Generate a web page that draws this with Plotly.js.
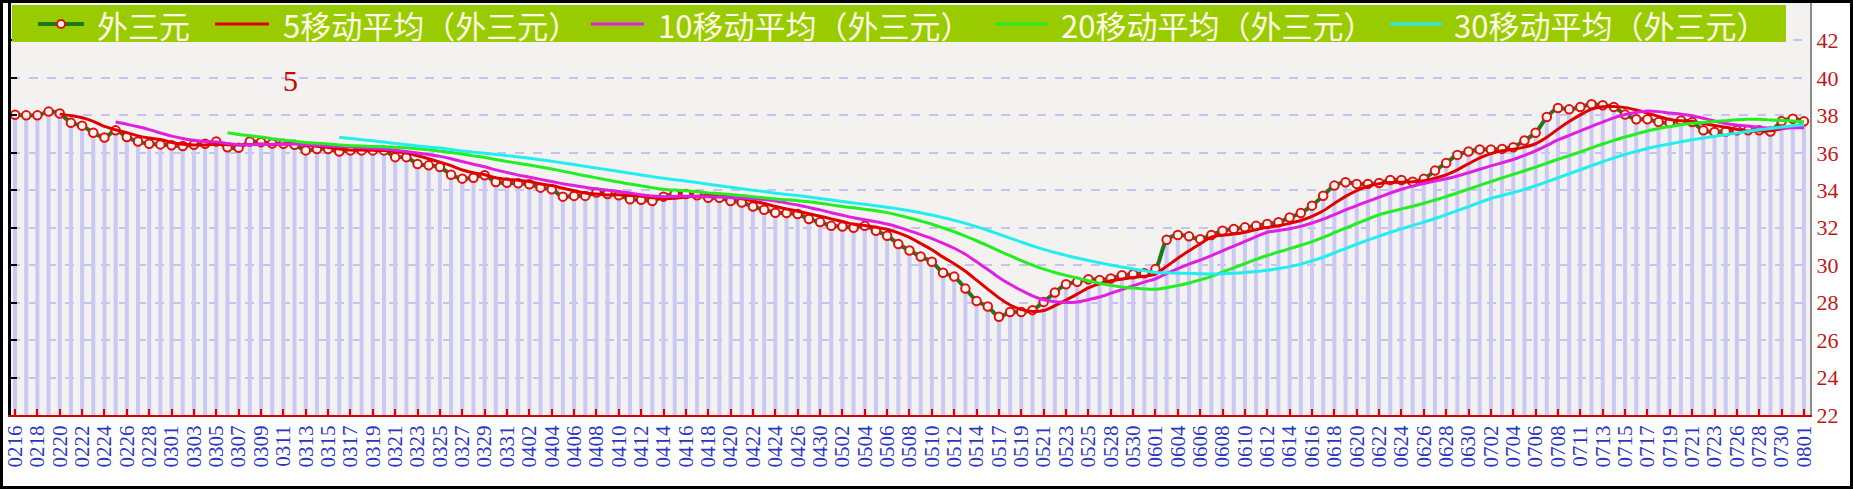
<!DOCTYPE html>
<html>
<head>
<meta charset="utf-8">
<script src="https://cdn.plot.ly/plotly-3.0.1.min.js"></script>
<style>
  html, body { margin: 0; padding: 0; background: #fff; }
  #wrap { position: relative; width: 1853px; height: 489px; }
  #chart { width: 1853px; height: 489px; }
  #frame { position: absolute; left: 0; top: 0; width: 1853px; height: 489px; box-sizing: border-box; border: 3px solid #000; pointer-events: none; }
</style>
</head>
<body>
<div id="wrap"><div id="chart"></div><div id="frame"></div></div>
<script>
// ---- data ----
const dates = [
  "0216","0217","0218","0219","0220","0221","0222","0223","0224","0225",
  "0226","0227","0228","0229","0301","0302","0303","0304","0305","0306",
  "0307","0308","0309","0310","0311","0312","0313","0314","0315","0316",
  "0317","0318","0319","0320","0321","0322","0323","0324","0325","0326",
  "0327","0328","0329","0330","0331","0401","0402","0403","0404","0405",
  "0406","0407","0408","0409","0410","0411","0412","0413","0414","0415",
  "0416","0417","0418","0419","0420","0421","0422","0423","0424","0425",
  "0426","0427","0430","0501","0502","0503","0504","0505","0506","0507",
  "0508","0509","0510","0511","0512","0513","0514","0515","0517","0518",
  "0519","0520","0521","0522","0523","0524","0525","0526","0528","0529",
  "0530","0531","0601","0602","0604","0605","0606","0607","0608","0609",
  "0610","0611","0612","0613","0614","0615","0616","0617","0618","0619",
  "0620","0621","0622","0623","0624","0625","0626","0627","0628","0629",
  "0630","0701","0702","0703","0704","0705","0706","0707","0708","0709",
  "0711","0712","0713","0714","0715","0716","0717","0718","0719","0720",
  "0721","0722","0723","0724","0726","0727","0728","0729","0730","0731",
  "0801"
];
const waiSanYuan = [
  38.03, 38.0, 38.0, 38.2, 38.1, 37.6, 37.45, 37.07, 36.82, 37.2,
  36.84, 36.6, 36.48, 36.45, 36.4, 36.36, 36.43, 36.48, 36.6, 36.3,
  36.27, 36.6, 36.57, 36.5, 36.48, 36.43, 36.13, 36.2, 36.2, 36.07,
  36.13, 36.13, 36.13, 36.13, 35.77, 35.77, 35.4, 35.33, 35.24, 34.83,
  34.62, 34.67, 34.8, 34.44, 34.4, 34.37, 34.32, 34.14, 34.05, 33.66,
  33.7, 33.7, 33.88, 33.8, 33.73, 33.52, 33.49, 33.43, 33.66, 33.8,
  33.8, 33.73, 33.6, 33.6, 33.43, 33.35, 33.13, 32.96, 32.8, 32.78,
  32.73, 32.46, 32.3, 32.1, 32.07, 32.0, 32.1, 31.84, 31.57, 31.13,
  30.78, 30.46, 30.18, 29.6, 29.39, 28.75, 28.09, 27.79, 27.25, 27.5,
  27.5, 27.6, 28.04, 28.54, 28.98, 29.11, 29.25, 29.21, 29.29, 29.46,
  29.52, 29.57, 29.79, 31.36, 31.61, 31.54, 31.39, 31.61, 31.84, 31.93,
  32.02, 32.1, 32.2, 32.29, 32.55, 32.79, 33.18, 33.71, 34.25, 34.43,
  34.34, 34.34, 34.39, 34.55, 34.55, 34.46, 34.61, 35.05, 35.46, 35.89,
  36.07, 36.18, 36.18, 36.21, 36.3, 36.66, 37.07, 37.91, 38.39, 38.32,
  38.45, 38.59, 38.54, 38.45, 38.04, 37.79, 37.79, 37.64, 37.61, 37.73,
  37.64, 37.2, 37.11, 37.14, 37.2, 37.2, 37.2, 37.14, 37.68, 37.82,
  37.68
];
const maWindows = [5, 10, 20, 30];
const maColors = ["#e00000", "#e020e0", "#22ee22", "#22eeee"];
const seriesName = "外三元";
const legendLabels = ["外三元", "5移动平均（外三元）", "10移动平均（外三元）", "20移动平均（外三元）", "30移动平均（外三元）"];
const yTicks = [22, 24, 26, 28, 30, 32, 34, 36, 38, 40, 42, 44];

// moving average of the read series (trailing window)
function movingAverage(arr, n) {
  return arr.map((v, i) => {
    if (i < n - 1) return null;
    let s = 0;
    for (let k = i - n + 1; k <= i; k++) s += arr[k];
    return s / n;
  });
}

const traces = [];
traces.push({
  type: "bar", x: dates, y: waiSanYuan, yaxis: "y",
  width: 0.36, marker: { color: "#c9c9f3", line: { width: 0 } },
  hoverinfo: "skip", showlegend: false
});
traces.push({
  type: "scatter", mode: "lines+markers", x: dates, y: waiSanYuan, yaxis: "y2",
  name: seriesName,
  line: { color: "#1c7a1c", width: 4, shape: "spline", smoothing: 0.8 },
  marker: { symbol: "circle", size: 8.5, color: "#fff4f0", line: { color: "#e01010", width: 2 } },
  showlegend: false
});
maWindows.forEach((n, j) => {
  traces.push({
    type: "scatter", mode: "lines", x: dates, y: movingAverage(waiSanYuan, n), yaxis: "y2",
    name: legendLabels[j + 1],
    line: { color: maColors[j], width: 3, shape: "spline", smoothing: 0.8 },
    connectgaps: false, showlegend: false
  });
});

// ---- layout helpers (pixel -> paper) ----
const W = 1853, H = 489, ML = 11, MR = 43, MT = 3, MB = 74;
const PW = W - ML - MR, PH = H - MT - MB;
const px = X => (X - ML) / PW;
const py = Y => (H - MB - Y) / PH;

const legY = 24;
const symbols = [[38, 84], [215, 269], [591, 644], [995, 1047], [1390, 1442]];
const textStarts = [95, 281, 656, 1059, 1452];
const symColors = ["#1c7a1c"].concat(maColors);

const shapes = [{
  type: "rect", xref: "paper", yref: "paper", layer: "above",
  x0: px(12), x1: px(1786), y0: py(42), y1: py(5),
  fillcolor: "#99cc00", line: { width: 0 }
}];
symbols.forEach((s, j) => {
  shapes.push({
    type: "line", xref: "paper", yref: "paper", layer: "above",
    x0: px(s[0]), x1: px(s[1]), y0: py(legY), y1: py(legY),
    line: { color: symColors[j], width: j === 0 ? 4 : 3 }
  });
});
shapes.push({
  type: "circle", xref: "paper", yref: "paper", layer: "above",
  x0: px(57), x1: px(65), y0: py(28), y1: py(20),
  fillcolor: "#fff4f0", line: { color: "#e01010", width: 2 }
});

const annotations = legendLabels.map((t, j) => ({
  xref: "paper", yref: "paper", x: px(textStarts[j]), y: py(legY + 1),
  xanchor: "left", yanchor: "middle", showarrow: false, text: t,
  font: { family: "Noto Sans CJK SC", size: 31, color: "#fffbe6" }
}));
annotations.push({
  xref: "paper", yref: "paper", x: px(290), y: py(80),
  xanchor: "center", yanchor: "middle", showarrow: false, text: "5",
  font: { family: "Liberation Serif", size: 30, color: "#d00000" }
});

const layout = {
  width: W, height: H,
  margin: { l: ML, r: MR, t: MT, b: MB, pad: 0 },
  paper_bgcolor: "#ffffff", plot_bgcolor: "#f3f2f0",
  showlegend: false,
  xaxis: {
    type: "category", range: [-0.36, 160.54],
    tickmode: "linear", tick0: 0, dtick: 2, tickangle: -90,
    tickfont: { family: "Liberation Serif", size: 21, color: "#2a35c0" },
    ticks: "inside", ticklen: 6, tickwidth: 2, tickcolor: "#dd0000",
    showline: true, linecolor: "#dd0000", linewidth: 2,
    showgrid: false, zeroline: false, fixedrange: true
  },
  yaxis: {
    range: [22, 44], side: "left", tickmode: "array", tickvals: yTicks,
    showticklabels: false, ticks: "inside", ticklen: 6, tickwidth: 2, tickcolor: "#000",
    showline: true, linecolor: "#000", linewidth: 3,
    showgrid: true, gridcolor: "#c4c4ee", gridwidth: 2, griddash: "dash",
    zeroline: false, fixedrange: true
  },
  yaxis2: {
    range: [22, 44], side: "right", overlaying: "y", tickmode: "array", tickvals: yTicks,
    tickfont: { family: "Liberation Serif", size: 22, color: "#c01818" },
    ticks: "", showline: true, linecolor: "#8a8a8a", linewidth: 2,
    showgrid: false, zeroline: false, fixedrange: true
  },
  shapes: shapes,
  annotations: annotations
};

Plotly.newPlot("chart", traces, layout, { displayModeBar: false, staticPlot: true });
</script>
</body>
</html>
